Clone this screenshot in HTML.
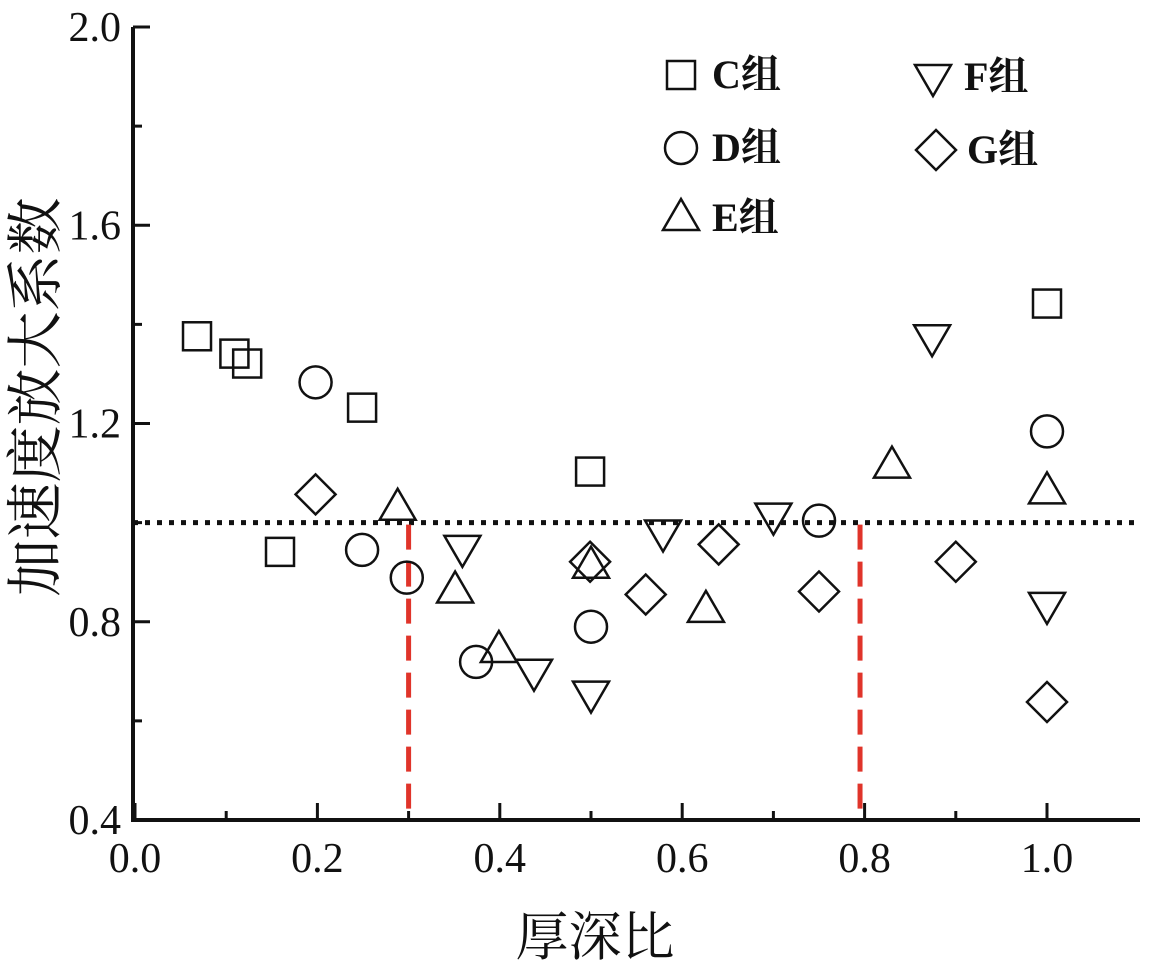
<!DOCTYPE html>
<html><head><meta charset="utf-8"><style>
html,body{margin:0;padding:0;background:#fff;}
svg text{font-family:"Liberation Serif","Noto Serif CJK SC",serif;fill:#111;}
</style></head><body>
<svg width="1156" height="965" viewBox="0 0 1156 965" xmlns="http://www.w3.org/2000/svg">
<g id="axes"></g>
<g id="marks"></g>
<g id="legend"></g>
<text x="595" y="955" font-size="53" text-anchor="middle">厚深比</text>
<text transform="translate(55,397) rotate(-90)" font-size="57" text-anchor="middle">加速度放大系数</text>
</svg>
<script>
const xTicks=[0.0,0.2,0.4,0.6,0.8,1.0];
const yTicks=[0.4,0.8,1.2,1.6,2.0];
const cX=[0.068,0.109,0.123,0.159,0.249,0.499,1.0];
const cY=[1.376,1.341,1.321,0.941,1.232,1.103,1.442];
const dX=[0.198,0.249,0.298,0.374,0.5,0.75,1.0];
const dY=[1.283,0.945,0.889,0.719,0.790,1.004,1.184];
const eX=[0.288,0.351,0.399,0.5,0.626,0.83,1.0];
const eY=[1.03,0.863,0.743,0.913,0.824,1.115,1.063];
const fX=[0.359,0.4375,0.5,0.579,0.7,0.874,1.0];
const fY=[0.949,0.699,0.655,0.980,1.014,1.374,0.834];
const gX=[0.198,0.499,0.56,0.64,0.75,0.9,1.0];
const gY=[1.057,0.921,0.855,0.956,0.861,0.921,0.638];
const refY=1.0;
const redX=[0.3,0.795];

const NS="http://www.w3.org/2000/svg";
const X0=133,X1=1140,Y0=820,Y1=27;
const sx=v=>135+v*912;
const sy=v=>Y0-(v-0.4)/1.6*(Y0-Y1);
function mk(tag,attrs,parent){const e=document.createElementNS(NS,tag);for(const k in attrs)e.setAttribute(k,attrs[k]);parent.appendChild(e);return e;}
const axes=document.getElementById('axes'),marks=document.getElementById('marks'),leg=document.getElementById('legend');
let e;
e=mk('path',{d:`M${X0},${Y1} V${Y0} H${X1}`,fill:'none',stroke:'#111','stroke-width':4},axes);


for(let i=0;i<xTicks.length;i++){
  const v=xTicks[i];
  e=mk('line',{x1:sx(v),x2:sx(v),y1:Y0,y2:Y0-17,stroke:'#111','stroke-width':3},axes);
  
  
  e=mk('text',{x:sx(v),y:872,'font-size':42,'text-anchor':'middle'},axes);e.textContent=v.toFixed(1);
  
  
  if(i<xTicks.length-1){
    const m=(v+xTicks[i+1])/2;
    e=mk('line',{x1:sx(m),x2:sx(m),y1:Y0,y2:Y0-9,stroke:'#111','stroke-width':3},axes);
    
    
  }
}
for(let i=0;i<yTicks.length;i++){
  const v=yTicks[i];
  e=mk('line',{x1:X0,x2:X0+17,y1:sy(v),y2:sy(v),stroke:'#111','stroke-width':3},axes);
  
  
  e=mk('text',{x:121,y:sy(v)+14,'font-size':42,'text-anchor':'end'},axes);e.textContent=v.toFixed(1);
  
  
  if(i<yTicks.length-1){
    const m=(v+yTicks[i+1])/2;
    e=mk('line',{x1:X0,x2:X0+9,y1:sy(m),y2:sy(m),stroke:'#111','stroke-width':3},axes);
    
    
  }
}
e=mk('line',{x1:X0,x2:X1,y1:sy(refY),y2:sy(refY),stroke:'#111','stroke-width':5,'stroke-dasharray':'5 7'},axes);


redX.forEach(v=>{
  e=mk('line',{x1:sx(v),x2:sx(v),y1:sy(refY)+2,y2:Y0-2,stroke:'#e0342a','stroke-width':5,'stroke-dasharray':'25 12'},axes);
  
  
});
const sw={fill:'none',stroke:'#111','stroke-width':2.5};
function marker(type,x,y,parent){
  let el;
  if(type==='sq')el=mk('rect',Object.assign({x:x-14,y:y-14,width:28,height:28},sw),parent);
  else if(type==='ci')el=mk('circle',Object.assign({cx:x,cy:y,r:16},sw),parent);
  else if(type==='up')el=mk('path',Object.assign({d:`M${x},${y-19} L${x+18},${y+12} L${x-18},${y+12}Z`},sw),parent);
  else if(type==='dn')el=mk('path',Object.assign({d:`M${x},${y+19} L${x+18},${y-12} L${x-18},${y-12}Z`},sw),parent);
  else el=mk('path',Object.assign({d:`M${x},${y-20} L${x+20},${y} L${x},${y+20} L${x-20},${y}Z`},sw),parent);
  return el;
}
const series=[['sq',cX,cY,'c'],['ci',dX,dY,'d'],['up',eX,eY,'e'],['dn',fX,fY,'f'],['di',gX,gY,'g']];
series.forEach(s=>{
  for(let i=0;i<s[1].length;i++){
    e=marker(s[0],sx(s[1][i]),sy(s[2][i]),marks);
    
    
  }
});
const legItems=[['sq',681,75,'C组'],['ci',681,148,'D组'],['up',681,218,'E组'],['dn',933,77,'F组'],['di',936,150,'G组']];
legItems.forEach(l=>{
  e=marker(l[0],l[1],l[2],leg);
  
  
  e=mk('text',{x:l[1]+31,y:l[2]+13,'font-size':40,'font-weight':'bold'},leg);e.textContent=l[3];
  
  
});
</script>
</body></html>
